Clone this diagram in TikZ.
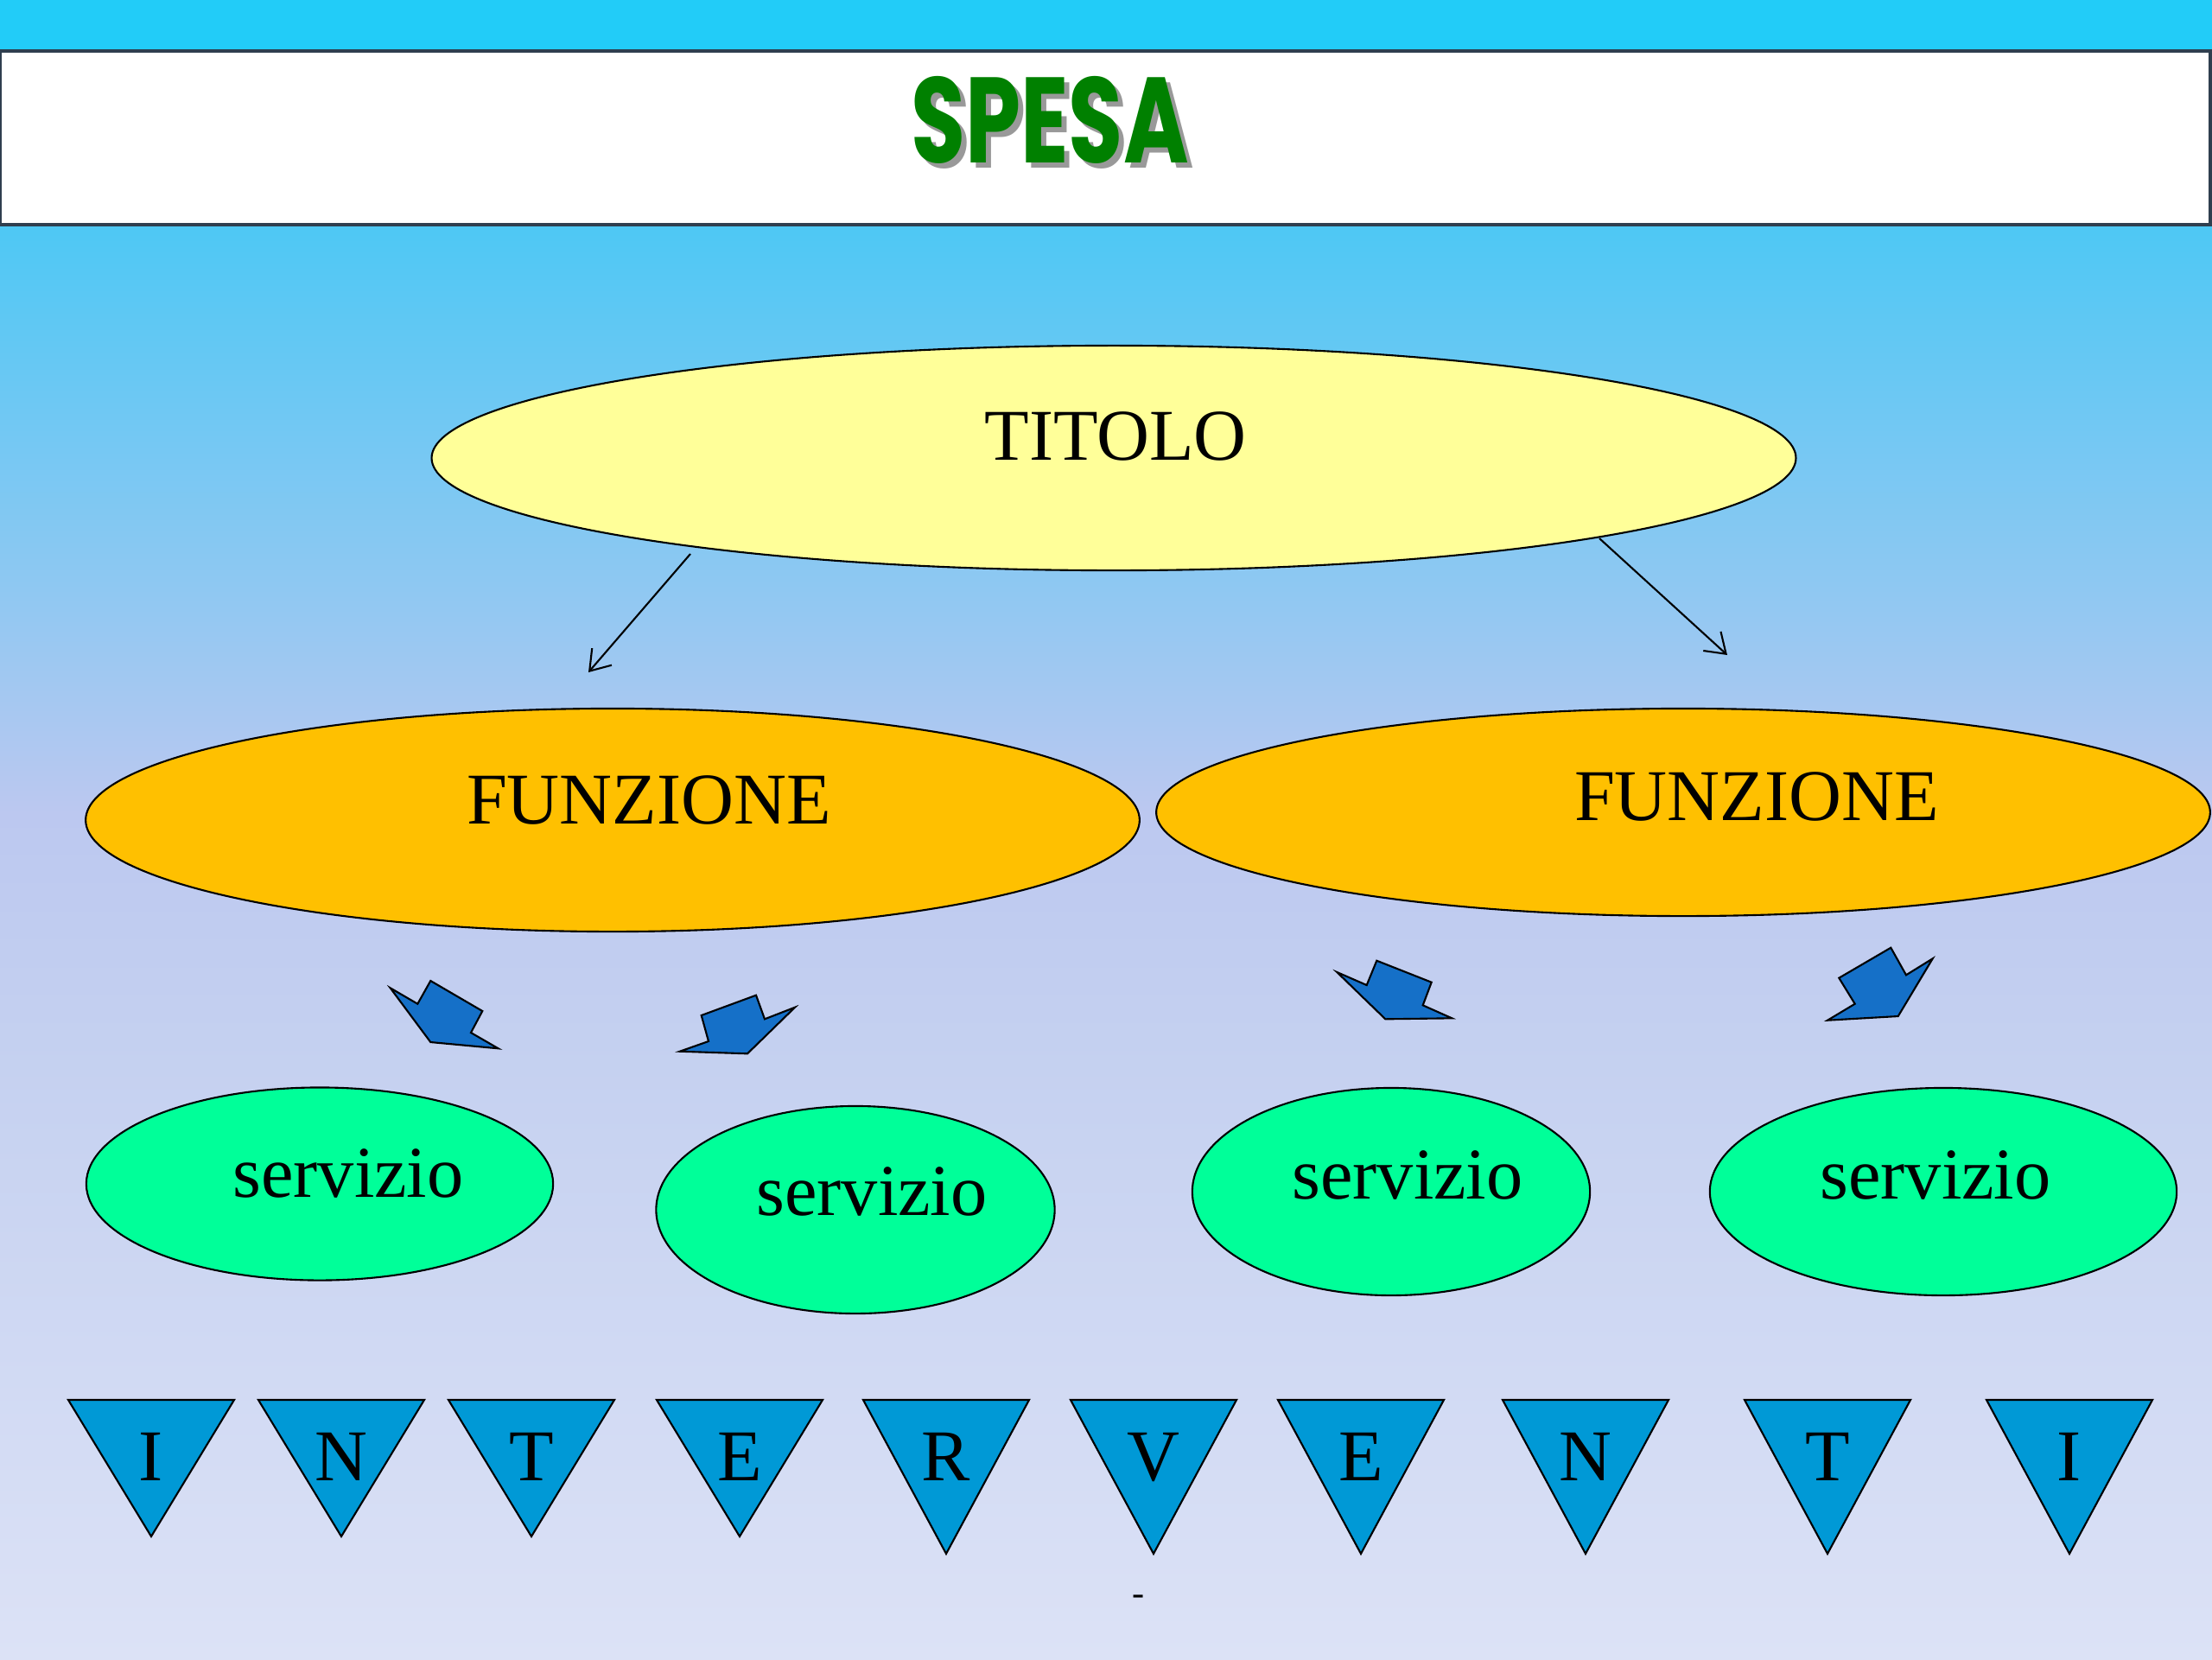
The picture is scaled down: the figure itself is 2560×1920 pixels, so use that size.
\documentclass[tikz,border=0pt]{standalone}
\usepackage{fontspec}
\setmainfont{Liberation Serif}
\newfontfamily\spesafont{Poppins}
\usepackage{graphicx}
\usepackage{xcolor}
\usepackage{tikz}
\usetikzlibrary{shapes.geometric, arrows.meta}
\definecolor{skytop}{RGB}{34,204,248}
\definecolor{skyhigh}{RGB}{76,200,244}
\definecolor{skyupper}{RGB}{142,200,242}
\definecolor{skymid}{RGB}{188,200,240}
\definecolor{skylower}{RGB}{196,208,240}
\definecolor{skylow}{RGB}{220,226,246}
\definecolor{barline}{RGB}{47,63,79}
\definecolor{spesagreen}{RGB}{0,128,0}
\definecolor{titoloyellow}{RGB}{255,255,153}
\definecolor{funzioneorange}{RGB}{255,192,0}
\definecolor{serviziogreen}{RGB}{0,255,153}
\definecolor{blockblue}{RGB}{21,112,200}
\definecolor{letterblue}{RGB}{0,153,214}
\pgfdeclareverticalshading{skyfade}{100bp}{color(0bp)=(skylow); color(25bp)=(skylow); color(43.75bp)=(skylower);
  color(50.5bp)=(skymid); color(57.4bp)=(skyupper); color(68.5bp)=(skyhigh); color(75bp)=(skytop); color(100bp)=(skytop)}
\tikzstyle{titolobox} = [ellipse, draw=black, line width=0.6pt, fill=titoloyellow, minimum width=15.78cm, minimum height=2.6cm, inner sep=0pt]
\tikzstyle{funzionebox} = [ellipse, draw=black, line width=0.6pt, fill=funzioneorange, minimum width=12.19cm, inner sep=0pt]
\tikzstyle{serviziobox} = [ellipse, draw=black, line width=0.6pt, fill=serviziogreen, inner sep=0pt]
\tikzstyle{bigtext} = [font=\fontsize{24}{28}\selectfont, inner sep=0pt]
\tikzstyle{thinarrow} = [line width=0.6pt, -{Straight Barb[length=2.2mm, width=3mm]}]
\tikzstyle{blockarrow} = [fill=blockblue, draw=black, line width=0.6pt, line join=miter]
\tikzstyle{letterbox} = [fill=letterblue, draw=black, line width=0.6pt]
\newcommand{\spesaword}{\spesafont\bfseries\fontsize{40}{44}\selectfont\scalebox{0.73}[1]{SPESA}}

\begin{document}
\begin{tikzpicture}[x=0.01cm, y=-0.01cm]
    \useasboundingbox (0,0) rectangle (2560,1920);
    \shade [shading=skyfade] (0,0) rectangle (2560,1920);
    \fill [skytop] (0,0) rectangle (2560,59);
    \draw [barline, line width=0.9pt, fill=white] (0,59) rectangle (2558,260);

    % title with its shadow
    \node (spesa) [text=spesagreen] at (1215,142)
        {\makebox[0pt][l]{\hspace{0.6mm}\raisebox{-0.6mm}{\color{black!40}\spesaword}}\spesaword};

    \node (titolo) [titolobox] at (1289,530) {};
    \node (titolo-t) [bigtext] at (1291,505) {TITOLO};

    \node (funz1) [funzionebox, minimum height=2.58cm] at (709,949) {};
    \node (funz1-t) [bigtext] at (751,926) {FUNZIONE};
    \node (funz2) [funzionebox, minimum height=2.4cm] at (1948,940) {};
    \node (funz2-t) [bigtext] at (2033,922) {FUNZIONE};

    \coordinate (f1in) at (681,778);
    \coordinate (f2in) at (1999,758);
    \draw [thinarrow] ([shift={(-490,111)}]titolo.center) -- (f1in);
    \draw [thinarrow] ([shift={(562,93)}]titolo.center) -- (f2in);

    % block arrows
    \filldraw [blockarrow] (451.7,1143.3) -- (483.3,1161.7) -- (498.3,1135) -- (558.3,1170) -- (545,1195) -- (576.7,1213.3) -- (498.3,1206) -- cycle;
    \filldraw [blockarrow] (920,1165.7) -- (885,1179.3) -- (875,1151.7) -- (811.7,1175) -- (820,1205) -- (786.7,1216.7) -- (865,1219.3) -- cycle;
    \filldraw [blockarrow] (1547.3,1125) -- (1581.7,1140) -- (1593.3,1111.7) -- (1656.7,1136.7) -- (1646.7,1163.3) -- (1680.3,1178.3) -- (1603.3,1179.3) -- cycle;
    \filldraw [blockarrow] (2236.7,1109.3) -- (2206,1128.3) -- (2188.3,1096.7) -- (2128.3,1131.7) -- (2146.7,1161.7) -- (2115,1180.7) -- (2196.7,1176) -- cycle;

    \node (serv1) [serviziobox, minimum width=5.4cm, minimum height=2.23cm] at (370,1370) {};
    \node (serv1-t) [bigtext] at (403,1358) {servizio};
    \node (serv2) [serviziobox, minimum width=4.61cm, minimum height=2.4cm] at (990,1400) {};
    \node (serv2-t) [bigtext] at (1009,1379) {servizio};
    \node (serv3) [serviziobox, minimum width=4.6cm, minimum height=2.4cm] at (1610,1379) {};
    \node (serv3-t) [bigtext] at (1629,1360) {servizio};
    \node (serv4) [serviziobox, minimum width=5.4cm, minimum height=2.4cm] at (2249,1379) {};
    \node (serv4-t) [bigtext] at (2240,1360) {servizio};

    % interventi
    \foreach \x/\tip/\l [count=\i] in {175/1778/I, 395/1778/N, 615/1778/T, 856/1778/E, 1095/1798/R,
                                      1335/1798/V, 1575/1798/E, 1835/1798/N, 2115/1798/T, 2395/1798/I}
    {
        \filldraw [letterbox] (\x-96,1620) -- (\x+96,1620) -- (\x,\tip) -- cycle;
        \node (lett\i) [bigtext] at (\x,1686) {\l};
    }

    \node (dash) [font=\fontsize{12}{14}\selectfont, inner sep=0pt] at (1318,1852) {-};
\end{tikzpicture}
\end{document}
